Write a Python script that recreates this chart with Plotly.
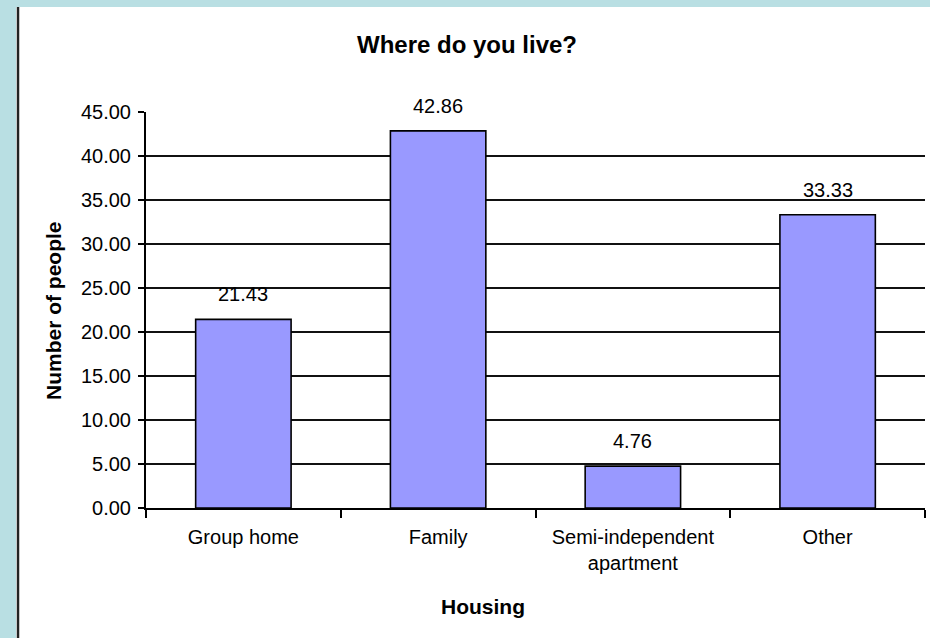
import plotly.graph_objects as go

# Survey results: where respondents live
categories = ["Group home", "Family", "Semi-independent<br>apartment", "Other"]
values = [21.43, 42.86, 4.76, 33.33]
y_ticks = [0, 5, 10, 15, 20, 25, 30, 35, 40, 45]

FONT = "Liberation Sans, Arial, sans-serif"
BAR_FILL = "#9999FF"
TEAL = "rgb(185,223,227)"

W, H = 930, 638
L, R, T, B = 146, 5, 112, 130
pw, ph = W - L - R, H - T - B


def px_x(p):
    return (p - L) / pw


def px_y(p):
    return (H - B - p) / ph


fig = go.Figure(
    go.Bar(
        x=categories,
        y=values,
        marker=dict(color=BAR_FILL, line=dict(color="black", width=1.6)),
        hoverinfo="x+y",
    )
)

# value labels above each bar
for c, v in zip(categories, values):
    fig.add_annotation(
        x=c, y=v, text=f"{v:.2f}", showarrow=False,
        yanchor="bottom", yshift=12,
        font=dict(family=FONT, size=20, color="black"),
    )

# axis titles
fig.add_annotation(
    xref="paper", yref="paper", x=px_x(483), y=px_y(606),
    text="<b>Housing</b>", showarrow=False,
    xanchor="center", yanchor="middle",
    font=dict(family=FONT, size=21, color="black"),
)
fig.add_annotation(
    xref="paper", yref="paper", x=px_x(53), y=px_y(311),
    text="<b>Number of people</b>", showarrow=False, textangle=-90,
    xanchor="center", yanchor="middle",
    font=dict(family=FONT, size=21, color="black"),
)

# frame: teal strips on top and left, dark border of the white panel
fig.add_shape(type="rect", xref="paper", yref="paper",
              x0=px_x(0), x1=px_x(W), y0=px_y(0), y1=px_y(7),
              fillcolor=TEAL, line=dict(width=0), layer="above")
fig.add_shape(type="rect", xref="paper", yref="paper",
              x0=px_x(0), x1=px_x(16), y0=px_y(0), y1=px_y(H),
              fillcolor=TEAL, line=dict(width=0), layer="above")
fig.add_shape(type="line", xref="paper", yref="paper",
              x0=px_x(18), x1=px_x(18), y0=px_y(7), y1=px_y(H),
              line=dict(color="#222", width=2.5), layer="above")

fig.update_layout(
    width=W, height=H,
    margin=dict(l=L, r=R, t=T, b=B),
    paper_bgcolor="white",
    plot_bgcolor="white",
    bargap=0.51,
    showlegend=False,
    font=dict(family=FONT, color="black"),
    title=dict(
        text="<b>Where do you live?</b>",
        xref="container", x=467 / W, xanchor="center",
        yref="container", y=1 - 45 / H, yanchor="middle",
        font=dict(family=FONT, size=24, color="black"),
    ),
    xaxis=dict(
        type="category",
        tickson="boundaries",
        ticks="outside", ticklen=8, tickwidth=2, tickcolor="black",
        showline=True, linecolor="black", linewidth=2,
        showgrid=False,
        tickfont=dict(family=FONT, size=20, color="black"),
        ticklabelstandoff=10,
    ),
    yaxis=dict(
        range=[0, 45],
        tickvals=y_ticks,
        tickformat=".2f",
        ticks="outside", ticklen=6, tickwidth=2, tickcolor="black",
        showline=True, linecolor="black", linewidth=2,
        showgrid=True, gridcolor="#111", gridwidth=2,
        zeroline=False,
        tickfont=dict(family=FONT, size=20, color="black"),
        ticklabelstandoff=3,
    ),
)

fig.write_html("out.html")
